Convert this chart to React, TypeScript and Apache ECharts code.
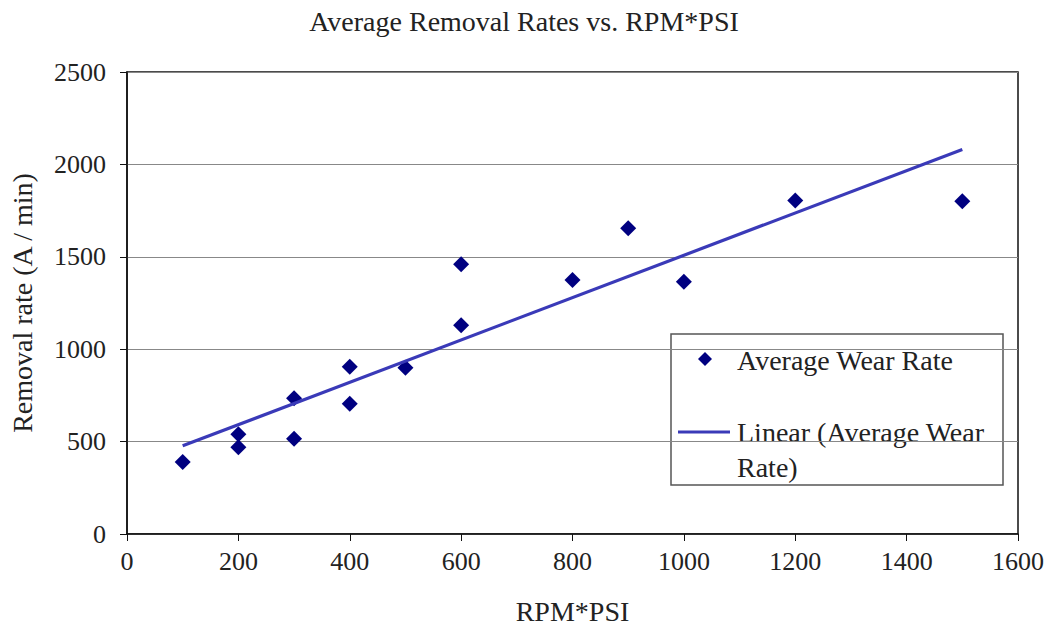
import React, { useEffect, useRef } from "react";
import * as echarts from "echarts";

const xValues = [100, 200, 200, 300, 300, 400, 400, 500, 600, 600, 800, 900, 1000, 1200, 1500];
const yValues = [390, 540, 470, 735, 515, 905, 705, 900, 1460, 1130, 1375, 1655, 1365, 1805, 1800];
const seriesName = "Average Wear Rate";
const trendName = "Linear (Average Wear Rate)";
const titleText = "Average Removal Rates vs. RPM*PSI";
const xAxisName = "RPM*PSI";
const yAxisName = "Removal rate (A / min)";

const FONT = "'Liberation Serif', 'Times New Roman', serif";
const TEXT_COLOR = "#222";
const MARK_COLOR = "#000080";
const LINE_COLOR = "#3a3ab8";

function regression(xs: number[], ys: number[]) {
  const n = xs.length;
  const mx = xs.reduce((a, b) => a + b, 0) / n;
  const my = ys.reduce((a, b) => a + b, 0) / n;
  let sxy = 0;
  let sxx = 0;
  for (let i = 0; i < n; i++) {
    sxy += (xs[i] - mx) * (ys[i] - my);
    sxx += (xs[i] - mx) * (xs[i] - mx);
  }
  const slope = sxy / sxx;
  return { slope, intercept: my - slope * mx };
}

export default function App() {
  const ref = useRef<HTMLDivElement>(null);

  useEffect(() => {
    document.body.style.margin = "0";
    if (!ref.current) return;
    const chart = echarts.init(ref.current, null, { renderer: "svg" });
    const { slope, intercept } = regression(xValues, yValues);
    const xMin = Math.min(...xValues);
    const xMax = Math.max(...xValues);
    const trend = [
      [xMin, intercept + slope * xMin],
      [xMax, intercept + slope * xMax],
    ];

    const lx = 671;
    const ly = 334;
    const textStyle = { fontFamily: FONT, fontSize: 28, fill: TEXT_COLOR };

    chart.setOption({
      animation: false,
      backgroundColor: "#fff",
      title: {
        text: titleText,
        left: "center",
        top: 2,
        textStyle: { fontFamily: FONT, fontSize: 28, fontWeight: "normal", color: TEXT_COLOR },
      },
      grid: {
        left: 127,
        right: 30,
        top: 72,
        bottom: 93,
        show: true,
        borderColor: "#111",
        borderWidth: 1.5,
        backgroundColor: "#fff",
      },
      xAxis: {
        type: "value",
        min: 0,
        max: 1600,
        interval: 200,
        name: xAxisName,
        nameLocation: "middle",
        nameGap: 63,
        nameTextStyle: { fontFamily: FONT, fontSize: 28, color: TEXT_COLOR },
        axisLine: { show: true, lineStyle: { color: "#111", width: 1.5 } },
        axisTick: { show: true, length: 7, lineStyle: { color: "#111" } },
        axisLabel: {
          fontFamily: FONT,
          fontSize: 26,
          color: TEXT_COLOR,
          margin: 14,
          formatter: (v: number) => String(v),
        },
        splitLine: { show: false },
      },
      yAxis: {
        type: "value",
        min: 0,
        max: 2500,
        interval: 500,
        name: yAxisName,
        nameLocation: "middle",
        nameRotate: 90,
        nameGap: 91,
        nameTextStyle: { fontFamily: FONT, fontSize: 28, color: TEXT_COLOR },
        axisLine: { show: true, lineStyle: { color: "#111", width: 1.5 } },
        axisTick: { show: true, length: 7, lineStyle: { color: "#111" } },
        axisLabel: {
          fontFamily: FONT,
          fontSize: 26,
          color: TEXT_COLOR,
          margin: 21,
          formatter: (v: number) => String(v),
        },
        splitLine: { show: true, lineStyle: { color: "#888", width: 1.2 } },
      },
      series: [
        {
          name: seriesName,
          type: "scatter",
          symbol: "diamond",
          symbolSize: 16,
          itemStyle: { color: MARK_COLOR, opacity: 1 },
          data: xValues.map((x, i) => [x, yValues[i]]),
          z: 3,
        },
        {
          name: trendName,
          type: "line",
          showSymbol: false,
          lineStyle: { color: LINE_COLOR, width: 3.2 },
          data: trend,
          z: 4,
        },
      ],
      graphic: [
        {
          type: "group",
          z: 100,
          children: [
            {
              type: "rect",
              shape: { x: lx, y: ly, width: 332, height: 151 },
              style: { fill: "#fff", stroke: "#555", lineWidth: 1.5 },
            },
            {
              type: "polygon",
              shape: {
                points: [
                  [lx + 34, ly + 18],
                  [lx + 41, ly + 25],
                  [lx + 34, ly + 32],
                  [lx + 27, ly + 25],
                ],
              },
              style: { fill: MARK_COLOR },
            },
            {
              type: "text",
              style: { ...textStyle, text: seriesName, x: lx + 66, y: ly + 26, verticalAlign: "middle" },
            },
            {
              type: "line",
              shape: { x1: lx + 7, y1: ly + 98, x2: lx + 59, y2: ly + 98 },
              style: { stroke: LINE_COLOR, lineWidth: 3.2 },
            },
            {
              type: "text",
              style: { ...textStyle, text: "Linear (Average Wear", x: lx + 66, y: ly + 98, verticalAlign: "middle" },
            },
            {
              type: "text",
              style: { ...textStyle, text: "Rate)", x: lx + 66, y: ly + 133, verticalAlign: "middle" },
            },
          ],
        },
      ],
    });
    return () => chart.dispose();
  }, []);

  return <div ref={ref} style={{ width: 1048, height: 630 }} />;
}
